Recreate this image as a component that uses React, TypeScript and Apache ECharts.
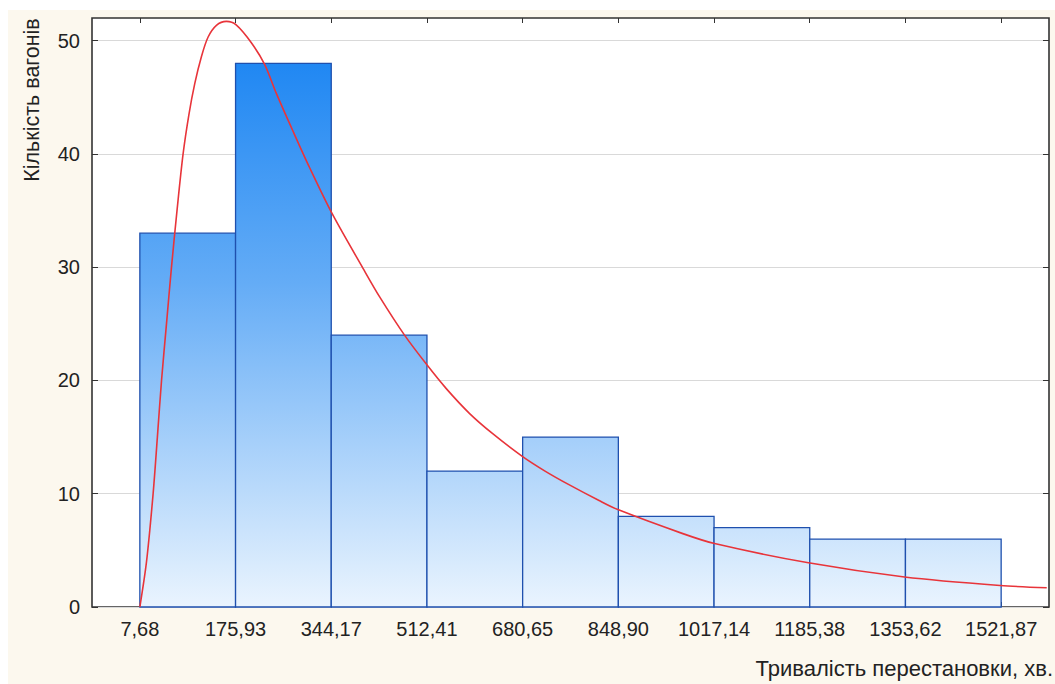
import React, { useEffect, useRef } from "react";
import * as echarts from "echarts";

// Bin edges (tick labels on the x axis)
const binEdges = [7.68, 175.93, 344.17, 512.41, 680.65, 848.9, 1017.14, 1185.38, 1353.62, 1521.87];
// Frequencies of each bin
const counts = [33, 48, 24, 12, 15, 8, 7, 6, 6];
// Fitted distribution curve: [x, count]
const curveX = [7.68, 19.4, 31.0, 38.5, 45.8, 54.5, 63.3, 73, 83.7, 94, 104.2, 116, 127.5, 142.3, 159.8, 177, 204, 227, 248, 277, 306, 346, 400, 429, 473, 512, 546, 587, 628, 680, 720, 762, 815, 848, 961, 1018, 1183, 1352, 1520, 1602];
const curveY = [0, 4.0, 10.0, 15.0, 20.0, 25.0, 30.0, 35.0, 40.0, 43.5, 46.2, 48.6, 50.3, 51.35, 51.7, 51.4, 49.8, 47.9, 45.3, 42.0, 38.8, 34.7, 29.9, 27.4, 24.0, 21.4, 19.3, 17.1, 15.3, 13.3, 12.0, 10.8, 9.4, 8.6, 6.5, 5.6, 3.9, 2.65, 1.9, 1.7];
const yTicks = [0, 10, 20, 30, 40, 50];

const X_MIN = -76.44;
const X_MAX = 1605.99;
const Y_MAX = 52;

const FONT = "'Liberation Sans', Arial, sans-serif";
const fmt = (v: number) => v.toFixed(2).replace(".", ",");

export default function App() {
  const ref = useRef<HTMLDivElement>(null);
  useEffect(() => {
    if (!ref.current) return;
    const chart = echarts.init(ref.current, undefined, { renderer: "svg" });
    const bins = counts.map((c, i) => [binEdges[i], binEdges[i + 1], c]);
    const curve = curveX.map((x, i) => [x, curveY[i]]);
    const option: any = {
      animation: false,
      backgroundColor: "#fcf8ee",
      grid: {
        left: 84,
        right: 6,
        top: 8,
        bottom: 77,
        show: true,
        backgroundColor: "#ffffff",
        borderColor: "#333333",
        borderWidth: 1.6,
      },
      xAxis: [
        {
          type: "value",
          min: X_MIN,
          max: X_MAX,
          position: "bottom",
          axisLine: { show: false, onZero: false },
          splitLine: { show: false },
          axisTick: { show: true, inside: true, length: 5, customValues: binEdges, lineStyle: { color: "#333" } },
          axisLabel: {
            customValues: binEdges,
            formatter: (v: number) => fmt(v),
            color: "#222",
            fontSize: 20,
            fontFamily: FONT,
            margin: 12,
          },
        },
        {
          type: "value",
          min: X_MIN,
          max: X_MAX,
          position: "top",
          axisLine: { show: false, onZero: false },
          splitLine: { show: false },
          axisTick: { show: true, inside: true, length: 5, customValues: binEdges, lineStyle: { color: "#333" } },
          axisLabel: { show: false },
        },
      ],
      yAxis: [
        {
          type: "value",
          min: 0,
          max: Y_MAX,
          interval: 10,
          position: "left",
          axisLine: { show: false, onZero: false },
          splitLine: { show: true, lineStyle: { color: "#d9d9d9", width: 1 } },
          axisTick: { show: true, inside: true, length: 6, customValues: yTicks, lineStyle: { color: "#333" } },
          axisLabel: {
            customValues: yTicks,
            color: "#222",
            fontSize: 20,
            fontFamily: FONT,
            margin: 12,
          },
        },
        {
          type: "value",
          min: 0,
          max: Y_MAX,
          interval: 10,
          position: "right",
          axisLine: { show: false, onZero: false },
          splitLine: { show: false },
          axisTick: { show: true, inside: true, length: 6, customValues: yTicks, lineStyle: { color: "#333" } },
          axisLabel: { show: false },
        },
      ],
      graphic: [
        {
          type: "text",
          x: 24,
          y: 90,
          rotation: Math.PI / 2,
          style: {
            text: "Кількість вагонів",
            fontSize: 21.5,
            fontFamily: FONT,
            fill: "#222",
            align: "center",
            verticalAlign: "middle",
          },
        },
        {
          type: "text",
          x: 1045,
          y: 658,
          style: {
            text: "Тривалість перестановки, хв.",
            fontSize: 22,
            fontFamily: FONT,
            fill: "#222",
            align: "right",
            verticalAlign: "middle",
          },
        },
      ],
      series: [
        {
          type: "custom",
          xAxisIndex: 0,
          yAxisIndex: 0,
          data: bins,
          encode: { x: [0, 1], y: 2 },
          renderItem: (params: any, api: any) => {
            const x0 = api.value(0);
            const x1 = api.value(1);
            const c = api.value(2);
            const p0 = api.coord([x0, c]);
            const p1 = api.coord([x1, 0]);
            const yTop = api.coord([x0, Y_MAX])[1];
            const yBot = p1[1];
            const grad = new echarts.graphic.LinearGradient(
              0,
              yTop,
              0,
              yBot,
              [
                { offset: 0, color: "#1280f2" },
                { offset: 0.45, color: "#64acf6" },
                { offset: 1, color: "#eaf4fe" },
              ],
              true
            );
            return {
              type: "rect",
              shape: { x: p0[0], y: p0[1], width: p1[0] - p0[0], height: p1[1] - p0[1] },
              style: { fill: grad, stroke: "#1f50ae", lineWidth: 1.3 },
            };
          },
          z: 2,
        },
        {
          type: "line",
          xAxisIndex: 0,
          yAxisIndex: 0,
          data: curve,
          smooth: 0.3,
          symbol: "none",
          lineStyle: { color: "#e8343a", width: 1.6 },
          clip: true,
          z: 3,
        },
      ],
    };
    chart.setOption(option);
    return () => chart.dispose();
  }, []);
  return (
    <div
      ref={ref}
      style={{ position: "absolute", left: 8, top: 10, width: 1047, height: 674 }}
    />
  );
}
